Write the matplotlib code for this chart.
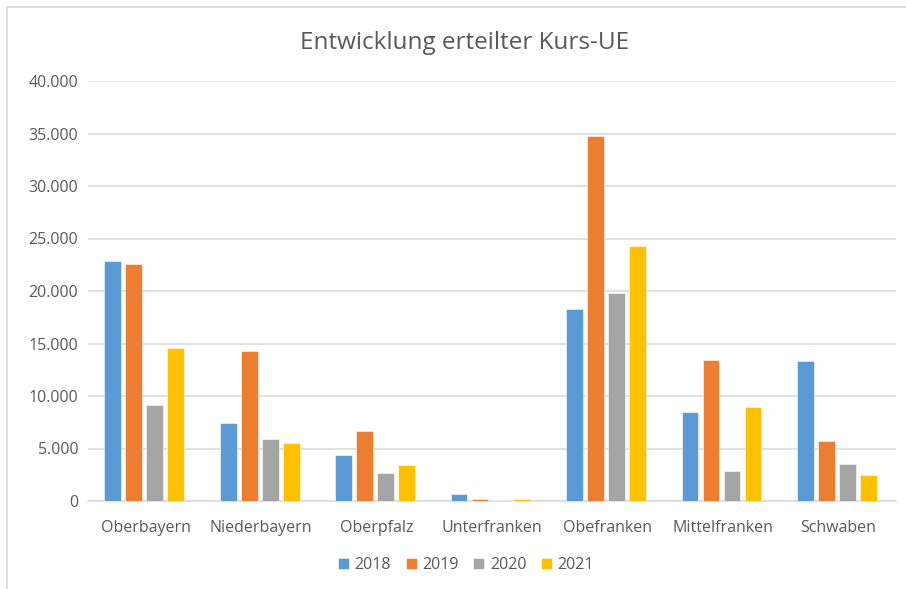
import matplotlib
matplotlib.use("Agg")
import matplotlib.pyplot as plt
import numpy as np
from matplotlib.lines import Line2D
from matplotlib.ticker import FuncFormatter

categories = ["Oberbayern", "Niederbayern", "Oberpfalz", "Unterfranken",
              "Obefranken", "Mittelfranken", "Schwaben"]
years = ["2018", "2019", "2020", "2021"]
v2018 = [22900, 7400, 4400, 650, 18300, 8450, 13350]
v2019 = [22600, 14300, 6700, 200, 34800, 13450, 5700]
v2020 = [9150, 5950, 2650, 60, 19800, 2850, 3500]
v2021 = [14550, 5550, 3400, 180, 24250, 8950, 2500]
series = [v2018, v2019, v2020, v2021]
colors = ["#5b9bd5", "#ed7d31", "#a5a5a5", "#ffc000"]
yticks = [0, 5000, 10000, 15000, 20000, 25000, 30000, 35000, 40000]

plt.rcParams["font.family"] = ["Open Sans", "DejaVu Sans"]
text_color = "#595959"
grid_color = "#d9d9d9"

fig = plt.figure(figsize=(9.06, 5.89), dpi=100)
ax = fig.add_axes([88/906, 1-501/589, (896-88)/906, (501-81)/589])

x = np.arange(len(categories))
step = 0.182
width = 0.145
for i, (vals, col, yr) in enumerate(zip(series, colors, years)):
    ax.bar(x + (i - 1.5) * step - 0.012, vals, width=width, color=col, label=yr,
           edgecolor="white", linewidth=0.4, zorder=3)

ax.set_xlim(-0.5, len(categories) - 0.5)
ax.set_ylim(0, 40000)
ax.set_yticks(yticks)
ax.yaxis.set_major_formatter(FuncFormatter(lambda v, p: f"{int(v):,}".replace(",", ".")))
ax.set_xticks(x)
ax.set_xticklabels(categories)
ax.tick_params(axis="both", length=0, colors=text_color, labelsize=11.5)
ax.tick_params(axis="y", pad=7)
ax.tick_params(axis="x", pad=14)
ax.grid(axis="y", color=grid_color, linewidth=1.1, zorder=0)
for s in ["top", "right", "left"]:
    ax.spines[s].set_visible(False)
ax.spines["bottom"].set_color(grid_color)
ax.spines["bottom"].set_linewidth(1.1)

fig.text(465/906, 1-43/589, "Entwicklung erteilter Kurs-UE", ha="center", va="center",
         fontsize=17.5, color=text_color)

leg = fig.legend(loc="center", bbox_to_anchor=(466/906, 1-565/589), ncol=4,
                 frameon=False, fontsize=11.5, handlelength=0.7, handleheight=0.7,
                 handletextpad=0.35, columnspacing=0.9)
for t in leg.get_texts():
    t.set_color(text_color)

fig.add_artist(Line2D([7/906, 7/906], [0, 1-7/589], transform=fig.transFigure,
                      color=grid_color, linewidth=1.2))
fig.add_artist(Line2D([7/906, 1], [1-7/589, 1-7/589], transform=fig.transFigure,
                      color=grid_color, linewidth=1.2))

fig.savefig("out.png", dpi=100)
